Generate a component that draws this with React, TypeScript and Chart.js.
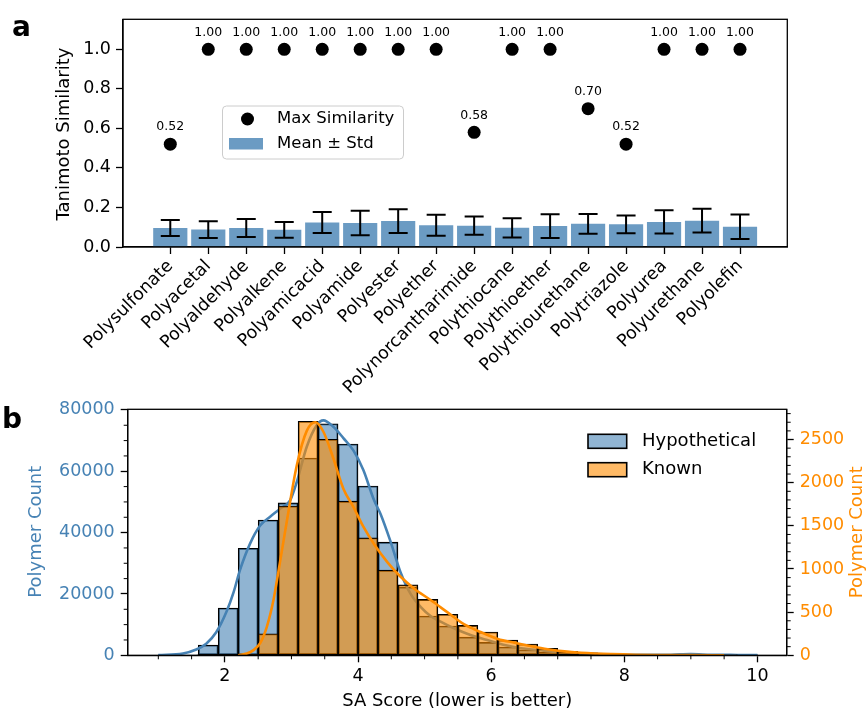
import React, { useEffect, useRef } from 'react';
import { Chart, registerables } from 'chart.js';

Chart.register(...registerables);

const FONT = "'DejaVu Sans', sans-serif";
const STEEL = 'rgb(70,130,180)';
const ORANGE = 'rgb(255,140,0)';

// ---------- Panel a data ----------
const CATEGORIES = [
  'Polysulfonate', 'Polyacetal', 'Polyaldehyde', 'Polyalkene', 'Polyamicacid', 'Polyamide',
  'Polyester', 'Polyether', 'Polynorcantharimide', 'Polythiocane', 'Polythioether',
  'Polythiourethane', 'Polytriazole', 'Polyurea', 'Polyurethane', 'Polyolefin',
];
const MEAN_SIM = [0.096, 0.088, 0.096, 0.087, 0.124, 0.122, 0.131, 0.110, 0.108, 0.097, 0.106, 0.117, 0.115, 0.127, 0.133, 0.102];
const STD_SIM = [0.040, 0.042, 0.046, 0.040, 0.053, 0.062, 0.060, 0.053, 0.046, 0.049, 0.060, 0.050, 0.045, 0.059, 0.060, 0.062];
const MAX_SIM = [0.52, 1.0, 1.0, 1.0, 1.0, 1.0, 1.0, 1.0, 0.58, 1.0, 1.0, 0.70, 0.52, 1.0, 1.0, 1.0];
const Y_TICKS_A = [0, 0.2, 0.4, 0.6, 0.8, 1.0];

// ---------- Panel b data ----------
const BIN_CENTERS = [1.15, 1.45, 1.75, 2.05, 2.35, 2.65, 2.95, 3.25, 3.55, 3.85, 4.15, 4.45, 4.75, 5.05, 5.35,
  5.65, 5.95, 6.25, 6.55, 6.85, 7.15, 7.45, 7.75, 8.05, 8.35, 8.65, 8.95, 9.25, 9.55, 9.85];
const HYPO_COUNTS = [20, 150, 3350, 15400, 34900, 44100, 49700, 64300, 75500, 68900, 55200, 36900, 22200, 12800, 9550,
  5900, 4200, 2700, 1800, 950, 450, 220, 120, 70, 50, 60, 150, 120, 200, 250];
const KNOWN_COUNTS = [0, 0, 0, 0, 5, 250, 1730, 2712, 2503, 1786, 1361, 987, 817, 648, 475,
  347, 270, 177, 131, 81, 45, 28, 15, 8, 5, 3, 2, 2, 1, 0];

const HYPO_KDE_X = [1.0, 1.37, 1.57, 1.72, 1.87, 2.03, 2.13, 2.23, 2.38, 2.53, 2.68, 2.83, 2.98, 3.08, 3.23, 3.38, 3.48,
  3.63, 3.78, 3.93, 4.08, 4.24, 4.34, 4.49, 4.64, 4.79, 4.94, 5.09, 5.24, 5.44, 5.69, 5.94, 6.2, 6.45, 6.7, 7.0, 7.35,
  7.85, 8.3, 8.7, 9.0, 9.3, 9.7, 10.0];
const HYPO_KDE_Y = [100, 600, 1900, 3800, 7500, 14500, 20500, 28000, 36500, 42300, 45200, 47800, 50500, 56500, 68000,
  75000, 76600, 74500, 70800, 66800, 60400, 50600, 46000, 37000, 27000, 20000, 15800, 12800, 10950, 8800, 6600, 5000,
  3350, 2280, 1730, 1000, 600, 300, 150, 200, 380, 200, 120, 80];

const KNOWN_KDE_X = [2.2, 2.33, 2.43, 2.53, 2.63, 2.73, 2.8, 2.93, 3.08, 3.23, 3.36, 3.48, 3.63, 3.78, 3.93, 4.08, 4.24,
  4.44, 4.64, 4.84, 5.09, 5.34, 5.59, 5.84, 6.1, 6.35, 6.6, 6.85, 7.1, 7.35, 7.8, 8.5, 9.0, 9.5];
const KNOWN_KDE_Y = [0, 20, 60, 140, 330, 640, 950, 1550, 2200, 2600, 2700, 2590, 2280, 1930, 1720, 1490, 1290,
  1080, 910, 775, 640, 500, 360, 270, 190, 145, 105, 70, 45, 30, 15, 4, 3, 0];

const X_TICKS_B = [2, 4, 6, 8, 10];
const X_MINOR_B = [1, 1.5, 2.5, 3, 3.5, 4.5, 5, 5.5, 6.5, 7, 7.5, 8.5, 9, 9.5];
const Y_TICKS_B = [0, 20000, 40000, 60000, 80000];
const Y_MINOR_B = [5000, 10000, 15000, 25000, 30000, 35000, 45000, 50000, 55000, 65000, 70000, 75000];
const Y2_TICKS_B = [0, 500, 1000, 1500, 2000, 2500];
const Y2_MINOR_B = [100, 200, 300, 400, 600, 700, 800, 900, 1100, 1200, 1300, 1400, 1600, 1700, 1800, 1900,
  2100, 2200, 2300, 2400, 2600, 2700, 2800];

function vText(ctx: CanvasRenderingContext2D, text: string, cx: number, cy: number) {
  ctx.save();
  ctx.translate(cx, cy);
  ctx.rotate(-Math.PI / 2);
  ctx.textAlign = 'center';
  ctx.textBaseline = 'middle';
  ctx.fillText(text, 0, 0);
  ctx.restore();
}

function zeroPad(s: any) {
  s.paddingTop = 0;
  s.paddingBottom = 0;
  s.paddingLeft = 0;
  s.paddingRight = 0;
}

const panelAPlugin = {
  id: 'panelA',
  afterDatasetsDraw(chart: any) {
    const { ctx, scales: { x, y } } = chart;
    ctx.save();
    ctx.strokeStyle = '#000';
    ctx.lineWidth = 2;
    CATEGORIES.forEach((_, i) => {
      const px = x.getPixelForValue(i);
      const yt = y.getPixelForValue(MEAN_SIM[i] + STD_SIM[i]);
      const yb = y.getPixelForValue(MEAN_SIM[i] - STD_SIM[i]);
      ctx.beginPath();
      ctx.moveTo(px, yb); ctx.lineTo(px, yt);
      ctx.moveTo(px - 9.5, yb); ctx.lineTo(px + 9.5, yb);
      ctx.moveTo(px - 9.5, yt); ctx.lineTo(px + 9.5, yt);
      ctx.stroke();
    });
    ctx.fillStyle = '#000';
    ctx.font = `12.5px ${FONT}`;
    ctx.textAlign = 'center';
    ctx.textBaseline = 'middle';
    MAX_SIM.forEach((v, i) => {
      ctx.fillText(v.toFixed(2), x.getPixelForValue(i), y.getPixelForValue(v) - 17);
    });
    ctx.restore();
  },
  afterDraw(chart: any) {
    const { ctx, chartArea: { left, top, right, bottom } } = chart;
    ctx.save();
    ctx.strokeStyle = '#000';
    ctx.lineWidth = 1.3;
    ctx.strokeRect(left, top, right - left, bottom - top);
    // legend
    const lx = 222.5, ly = 106, lw = 181, lh = 53, r = 4;
    ctx.beginPath();
    ctx.moveTo(lx + r, ly);
    ctx.arcTo(lx + lw, ly, lx + lw, ly + lh, r);
    ctx.arcTo(lx + lw, ly + lh, lx, ly + lh, r);
    ctx.arcTo(lx, ly + lh, lx, ly, r);
    ctx.arcTo(lx, ly, lx + lw, ly, r);
    ctx.closePath();
    ctx.fillStyle = 'rgba(255,255,255,0.8)';
    ctx.fill();
    ctx.strokeStyle = '#cccccc';
    ctx.lineWidth = 1;
    ctx.stroke();
    ctx.fillStyle = '#000';
    ctx.beginPath();
    ctx.arc(247.5, 119, 6.5, 0, Math.PI * 2);
    ctx.fill();
    ctx.fillStyle = 'rgba(70,130,180,0.8)';
    ctx.fillRect(229, 138, 34, 11.5);
    ctx.fillStyle = '#000';
    ctx.font = `16.5px ${FONT}`;
    ctx.textAlign = 'left';
    ctx.textBaseline = 'middle';
    ctx.fillText('Max Similarity', 277, 119);
    ctx.fillText('Mean \u00b1 Std', 277, 144);
    // axis title
    ctx.font = `18px ${FONT}`;
    vText(ctx, 'Tanimoto Similarity', 64, 134);
    // panel letter
    ctx.font = `bold 28px ${FONT}`;
    ctx.textAlign = 'left';
    ctx.textBaseline = 'alphabetic';
    ctx.fillText('a', 12, 36);
    ctx.restore();
  },
};

function drawMinor(ctx: CanvasRenderingContext2D, scale: any, values: number[], side: 'bottom' | 'left' | 'right') {
  ctx.beginPath();
  values.forEach((v) => {
    const p = scale.getPixelForValue(v);
    if (side === 'bottom') { ctx.moveTo(p, scale.top); ctx.lineTo(p, scale.top + 4); }
    if (side === 'left') { ctx.moveTo(scale.right, p); ctx.lineTo(scale.right - 4, p); }
    if (side === 'right') { ctx.moveTo(scale.left, p); ctx.lineTo(scale.left + 4, p); }
  });
  ctx.stroke();
}

const panelBPlugin = {
  id: 'panelB',
  afterDraw(chart: any) {
    const { ctx, chartArea: { left, top, right, bottom }, scales } = chart;
    ctx.save();
    ctx.strokeStyle = '#000';
    ctx.lineWidth = 1.3;
    ctx.strokeRect(left, top, right - left, bottom - top);
    ctx.lineWidth = 1;
    drawMinor(ctx, scales.x, X_MINOR_B, 'bottom');
    drawMinor(ctx, scales.y, Y_MINOR_B, 'left');
    drawMinor(ctx, scales.y1, Y2_MINOR_B, 'right');
    // legend
    ctx.lineWidth = 1.6;
    ctx.fillStyle = 'rgba(70,130,180,0.6)';
    ctx.fillRect(588, 34.3, 38.7, 14);
    ctx.strokeRect(588, 34.3, 38.7, 14);
    ctx.fillStyle = 'rgba(255,140,0,0.6)';
    ctx.fillRect(588, 62.7, 38.7, 14);
    ctx.strokeRect(588, 62.7, 38.7, 14);
    ctx.fillStyle = '#000';
    ctx.font = `18px ${FONT}`;
    ctx.textAlign = 'left';
    ctx.textBaseline = 'middle';
    ctx.fillText('Hypothetical', 642, 41.3);
    ctx.fillText('Known', 642, 69.7);
    // axis titles
    ctx.textAlign = 'center';
    ctx.fillText('SA Score (lower is better)', (left + right) / 2, 301.5);
    ctx.fillStyle = STEEL;
    vText(ctx, 'Polymer Count', 36.7, 131.7);
    ctx.fillStyle = ORANGE;
    vText(ctx, 'Polymer Count', 857.7, 132.3);
    ctx.fillStyle = '#000';
    ctx.font = `bold 28px ${FONT}`;
    ctx.textAlign = 'left';
    ctx.textBaseline = 'alphabetic';
    ctx.fillText('b', 2, 28.3);
    ctx.restore();
  },
};

function panelAConfig(): any {
  return {
    type: 'bar',
    data: {
      datasets: [
        {
          type: 'line',
          label: 'Max Similarity',
          data: MAX_SIM.map((v, i) => ({ x: i, y: v })),
          showLine: false,
          pointRadius: 6.5,
          pointBackgroundColor: '#000',
          pointBorderWidth: 0,
          order: 0,
        },
        {
          type: 'bar',
          label: 'Mean \u00b1 Std',
          data: MEAN_SIM.map((v, i) => ({ x: i, y: v })),
          backgroundColor: 'rgba(70,130,180,0.8)',
          borderWidth: 0,
          categoryPercentage: 1,
          barPercentage: 0.9,
          order: 1,
        },
      ],
    },
    options: {
      animation: false,
      responsive: false,
      events: [],
      layout: { padding: { top: 19.3, right: 78.7, left: 0, bottom: 0 } },
      plugins: { legend: { display: false }, tooltip: { enabled: false } },
      scales: {
        x: {
          type: 'linear',
          min: -1.245,
          max: 16.245,
          offset: false,
          afterBuildTicks: (s: any) => { s.ticks = CATEGORIES.map((_, i) => ({ value: i })); },
          afterFit: (s: any) => { s.height = 153; zeroPad(s); },
          ticks: {
            autoSkip: false,
            minRotation: 45,
            maxRotation: 45,
            padding: 2,
            color: '#000',
            font: { family: FONT, size: 17.5 },
            callback: (v: any) => CATEGORIES[Math.round(Number(v))] ?? '',
          },
          grid: { display: true, drawOnChartArea: false, drawTicks: true, tickLength: 7, tickColor: '#000', tickWidth: 1.3, offset: false },
          border: { display: true, color: '#000', width: 1.3 },
        },
        y: {
          min: 0,
          max: 1.152,
          afterBuildTicks: (s: any) => { s.ticks = Y_TICKS_A.map((v) => ({ value: v })); },
          afterFit: (s: any) => { s.width = 123; zeroPad(s); },
          ticks: {
            padding: 5,
            color: '#000',
            font: { family: FONT, size: 17.5 },
            callback: (v: any) => Number(v).toFixed(1),
          },
          grid: { display: true, drawOnChartArea: false, drawTicks: true, tickLength: 7, tickColor: '#000', tickWidth: 1.3 },
          border: { display: true, color: '#000', width: 1.3 },
        },
      },
    },
    plugins: [panelAPlugin],
  };
}

function panelBConfig(): any {
  return {
    type: 'bar',
    data: {
      datasets: [
        {
          type: 'bar',
          label: 'Hypothetical',
          data: HYPO_COUNTS.map((v, i) => ({ x: BIN_CENTERS[i], y: v })),
          backgroundColor: 'rgba(70,130,180,0.6)',
          borderColor: '#000',
          borderWidth: 1.2,
          borderSkipped: false,
          grouped: false,
          categoryPercentage: 1,
          barPercentage: 1,
          yAxisID: 'y',
          order: 4,
        },
        {
          type: 'line',
          label: 'Hypothetical KDE',
          data: HYPO_KDE_X.map((x, i) => ({ x, y: HYPO_KDE_Y[i] })),
          borderColor: STEEL,
          borderWidth: 2.6,
          pointRadius: 0,
          cubicInterpolationMode: 'monotone',
          yAxisID: 'y',
          order: 3,
        },
        {
          type: 'bar',
          label: 'Known',
          data: KNOWN_COUNTS.map((v, i) => ({ x: BIN_CENTERS[i], y: v })),
          backgroundColor: 'rgba(255,140,0,0.6)',
          borderColor: '#000',
          borderWidth: 1.2,
          borderSkipped: false,
          grouped: false,
          categoryPercentage: 1,
          barPercentage: 1,
          yAxisID: 'y1',
          order: 2,
        },
        {
          type: 'line',
          label: 'Known KDE',
          data: KNOWN_KDE_X.map((x, i) => ({ x, y: KNOWN_KDE_Y[i] })),
          borderColor: ORANGE,
          borderWidth: 2.6,
          pointRadius: 0,
          cubicInterpolationMode: 'monotone',
          yAxisID: 'y1',
          order: 1,
        },
      ],
    },
    options: {
      animation: false,
      responsive: false,
      events: [],
      layout: { padding: { top: 9.3, right: 0, left: 0, bottom: 0 } },
      plugins: { legend: { display: false }, tooltip: { enabled: false } },
      scales: {
        x: {
          type: 'linear',
          min: 0.54,
          max: 10.44,
          offset: false,
          afterBuildTicks: (s: any) => { s.ticks = X_TICKS_B.map((v) => ({ value: v })); },
          afterFit: (s: any) => { s.height = 55.7; zeroPad(s); },
          ticks: {
            autoSkip: false,
            maxRotation: 0,
            padding: 4,
            color: '#000',
            font: { family: FONT, size: 17.5 },
            callback: (v: any) => String(v),
          },
          grid: { display: true, drawOnChartArea: false, drawTicks: true, tickLength: 7, tickColor: '#000', tickWidth: 1.3, offset: false },
          border: { display: true, color: '#000', width: 1.3 },
        },
        y: {
          position: 'left',
          min: 0,
          max: 80200,
          afterBuildTicks: (s: any) => { s.ticks = Y_TICKS_B.map((v) => ({ value: v })); },
          afterFit: (s: any) => { s.width = 127.7; zeroPad(s); },
          ticks: {
            padding: 6,
            color: STEEL,
            font: { family: FONT, size: 17.5 },
            callback: (v: any) => String(v),
          },
          grid: { display: true, drawOnChartArea: false, drawTicks: true, tickLength: 7, tickColor: '#000', tickWidth: 1.3 },
          border: { display: true, color: '#000', width: 1.3 },
        },
        y1: {
          position: 'right',
          min: 0,
          max: 2850,
          afterBuildTicks: (s: any) => { s.ticks = Y2_TICKS_B.map((v) => ({ value: v })); },
          afterFit: (s: any) => { s.width = 79.3; zeroPad(s); },
          ticks: {
            padding: 6,
            color: ORANGE,
            font: { family: FONT, size: 17.5 },
            callback: (v: any) => String(v),
          },
          grid: { display: true, drawOnChartArea: false, drawTicks: true, tickLength: 7, tickColor: '#000', tickWidth: 1.3 },
          border: { display: true, color: '#000', width: 1.3 },
        },
      },
    },
    plugins: [panelBPlugin],
  };
}

export default function App() {
  const topRef = useRef<HTMLCanvasElement>(null);
  const botRef = useRef<HTMLCanvasElement>(null);
  useEffect(() => {
    Chart.defaults.font.family = FONT;
    Chart.defaults.color = '#000';
    const c1 = new Chart(topRef.current as HTMLCanvasElement, panelAConfig());
    const c2 = new Chart(botRef.current as HTMLCanvasElement, panelBConfig());
    return () => { c1.destroy(); c2.destroy(); };
  }, []);
  return (
    <div style={{ position: 'absolute', left: 0, top: 0, width: 866, height: 711, background: '#fff', overflow: 'hidden' }}>
      <canvas ref={topRef} width={866} height={400} style={{ position: 'absolute', left: 0, top: 0, width: 866, height: 400 }} />
      <canvas ref={botRef} width={866} height={311} style={{ position: 'absolute', left: 0, top: 400, width: 866, height: 311 }} />
    </div>
  );
}
